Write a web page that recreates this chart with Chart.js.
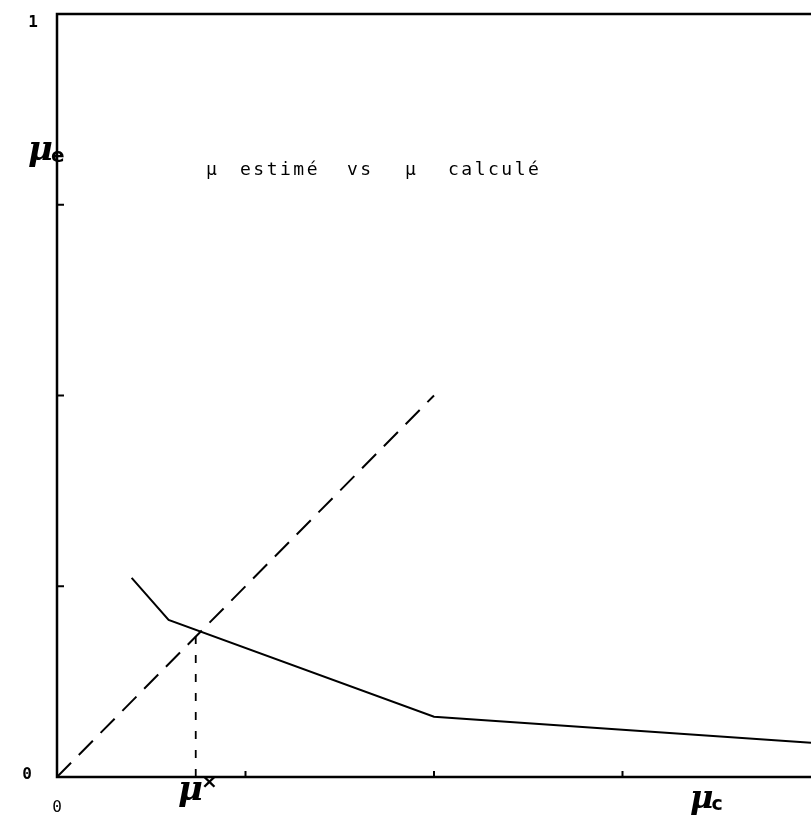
<!DOCTYPE html>
<html>
<head>
<meta charset="utf-8">
<script src="https://cdn.jsdelivr.net/npm/chart.js@4"></script>
<style>
html,body{margin:0;padding:0;background:#fff;overflow:hidden;}
canvas{display:block;}
</style>
</head>
<body>
<canvas id="c" width="811" height="827"></canvas>
<script>
// ---- data ----
const diagX = [0, 0.5];
const diagY = [0, 0.5];
const estX = [0.099, 0.148, 0.5, 1.0];
const estY = [0.261, 0.206, 0.079, 0.045];
const muStar = 0.184;
const muStarY = [0, 0.193];
const xTicks = [0.25, 0.5, 0.75];
const yTicks = [0.25, 0.5, 0.75];
const yTickLabels = [{v: 0, t: '0'}, {v: 1, t: '1'}];
const titleWords = ['μ', 'estimé', 'vs', 'μ', 'calculé'];

const toPts = (xs, ys) => xs.map((x, i) => ({x: x, y: ys[i]}));

const decor = {
  id: 'decor',
  afterDraw(chart) {
    const ctx = chart.ctx;
    const xs = chart.scales.x, ys = chart.scales.y;
    const a = chart.chartArea;
    ctx.save();
    ctx.strokeStyle = '#000';
    ctx.fillStyle = '#000';
    // frame: top, left, bottom
    ctx.lineWidth = 2.5;
    ctx.beginPath();
    ctx.moveTo(a.right, a.top);
    ctx.lineTo(a.left, a.top);
    ctx.lineTo(a.left, a.bottom);
    ctx.lineTo(a.right, a.bottom);
    ctx.stroke();
    // inward ticks
    ctx.lineWidth = 2;
    yTicks.forEach(v => {
      const p = ys.getPixelForValue(v);
      ctx.beginPath(); ctx.moveTo(a.left, p); ctx.lineTo(a.left + 7, p); ctx.stroke();
    });
    xTicks.forEach(v => {
      const p = xs.getPixelForValue(v);
      ctx.beginPath(); ctx.moveTo(p, a.bottom); ctx.lineTo(p, a.bottom - 6); ctx.stroke();
    });
    // numeric labels
    ctx.font = 'bold 16px "DejaVu Sans Mono"';
    ctx.textBaseline = 'middle';
    ctx.textAlign = 'center';
    yTickLabels.forEach(o => {
      const p = ys.getPixelForValue(o.v);
      ctx.fillText(o.t, o.v === 1 ? 33 : 27, o.v === 1 ? p + 9 : p - 2);
    });
    ctx.font = '16px "DejaVu Sans Mono"';
    ctx.fillText('0', xs.getPixelForValue(0), 808);
    // title in monospace
    ctx.font = '18px "DejaVu Sans Mono"';
    ctx.textAlign = 'left';
    ctx.textBaseline = 'alphabetic';
    ctx.letterSpacing = '2.5px';
    const wx = [206, 240, 347, 405, 448];
    titleWords.forEach((w, i) => ctx.fillText(w, wx[i], 175));
    ctx.letterSpacing = '0px';
    // handwritten axis names
    const sym = (main, sub, x, y, size) => {
      ctx.font = 'italic bold ' + size + 'px "DejaVu Serif"';
      ctx.fillText(main, x, y);
      const w = ctx.measureText(main).width;
      ctx.font = 'bold ' + Math.round(size * 0.6) + 'px "DejaVu Sans"';
      if (sub === '*') ctx.fillText('×', x + w - 2, y - size * 0.35);
      else ctx.fillText(sub, x + w - 2, y + 2);
    };
    sym('μ', 'e', 28, 160, 34);
    sym('μ', '*', 178, 800, 34);
    sym('μ', 'c', 690, 808, 32);
    ctx.restore();
  }
};

new Chart(document.getElementById('c'), {
  type: 'scatter',
  data: {
    datasets: [
      {data: toPts(diagX, diagY), showLine: true, borderColor: '#000', borderWidth: 2,
       borderDash: [20, 11], pointRadius: 0},
      {data: toPts(estX, estY), showLine: true, borderColor: '#000', borderWidth: 2,
       pointRadius: 0},
      {data: toPts([muStar, muStar], muStarY), showLine: true, borderColor: '#000', borderWidth: 1.8,
       borderDash: [8, 11], pointRadius: 0}
    ]
  },
  options: {
    responsive: false,
    animation: false,
    layout: {padding: {left: 57, top: 14, right: 0, bottom: 50}},
    plugins: {legend: {display: false}, tooltip: {enabled: false}, title: {display: false}},
    scales: {
      x: {type: 'linear', min: 0, max: 1, display: false},
      y: {type: 'linear', min: 0, max: 1, display: false}
    }
  },
  plugins: [decor]
});
</script>
</body>
</html>
